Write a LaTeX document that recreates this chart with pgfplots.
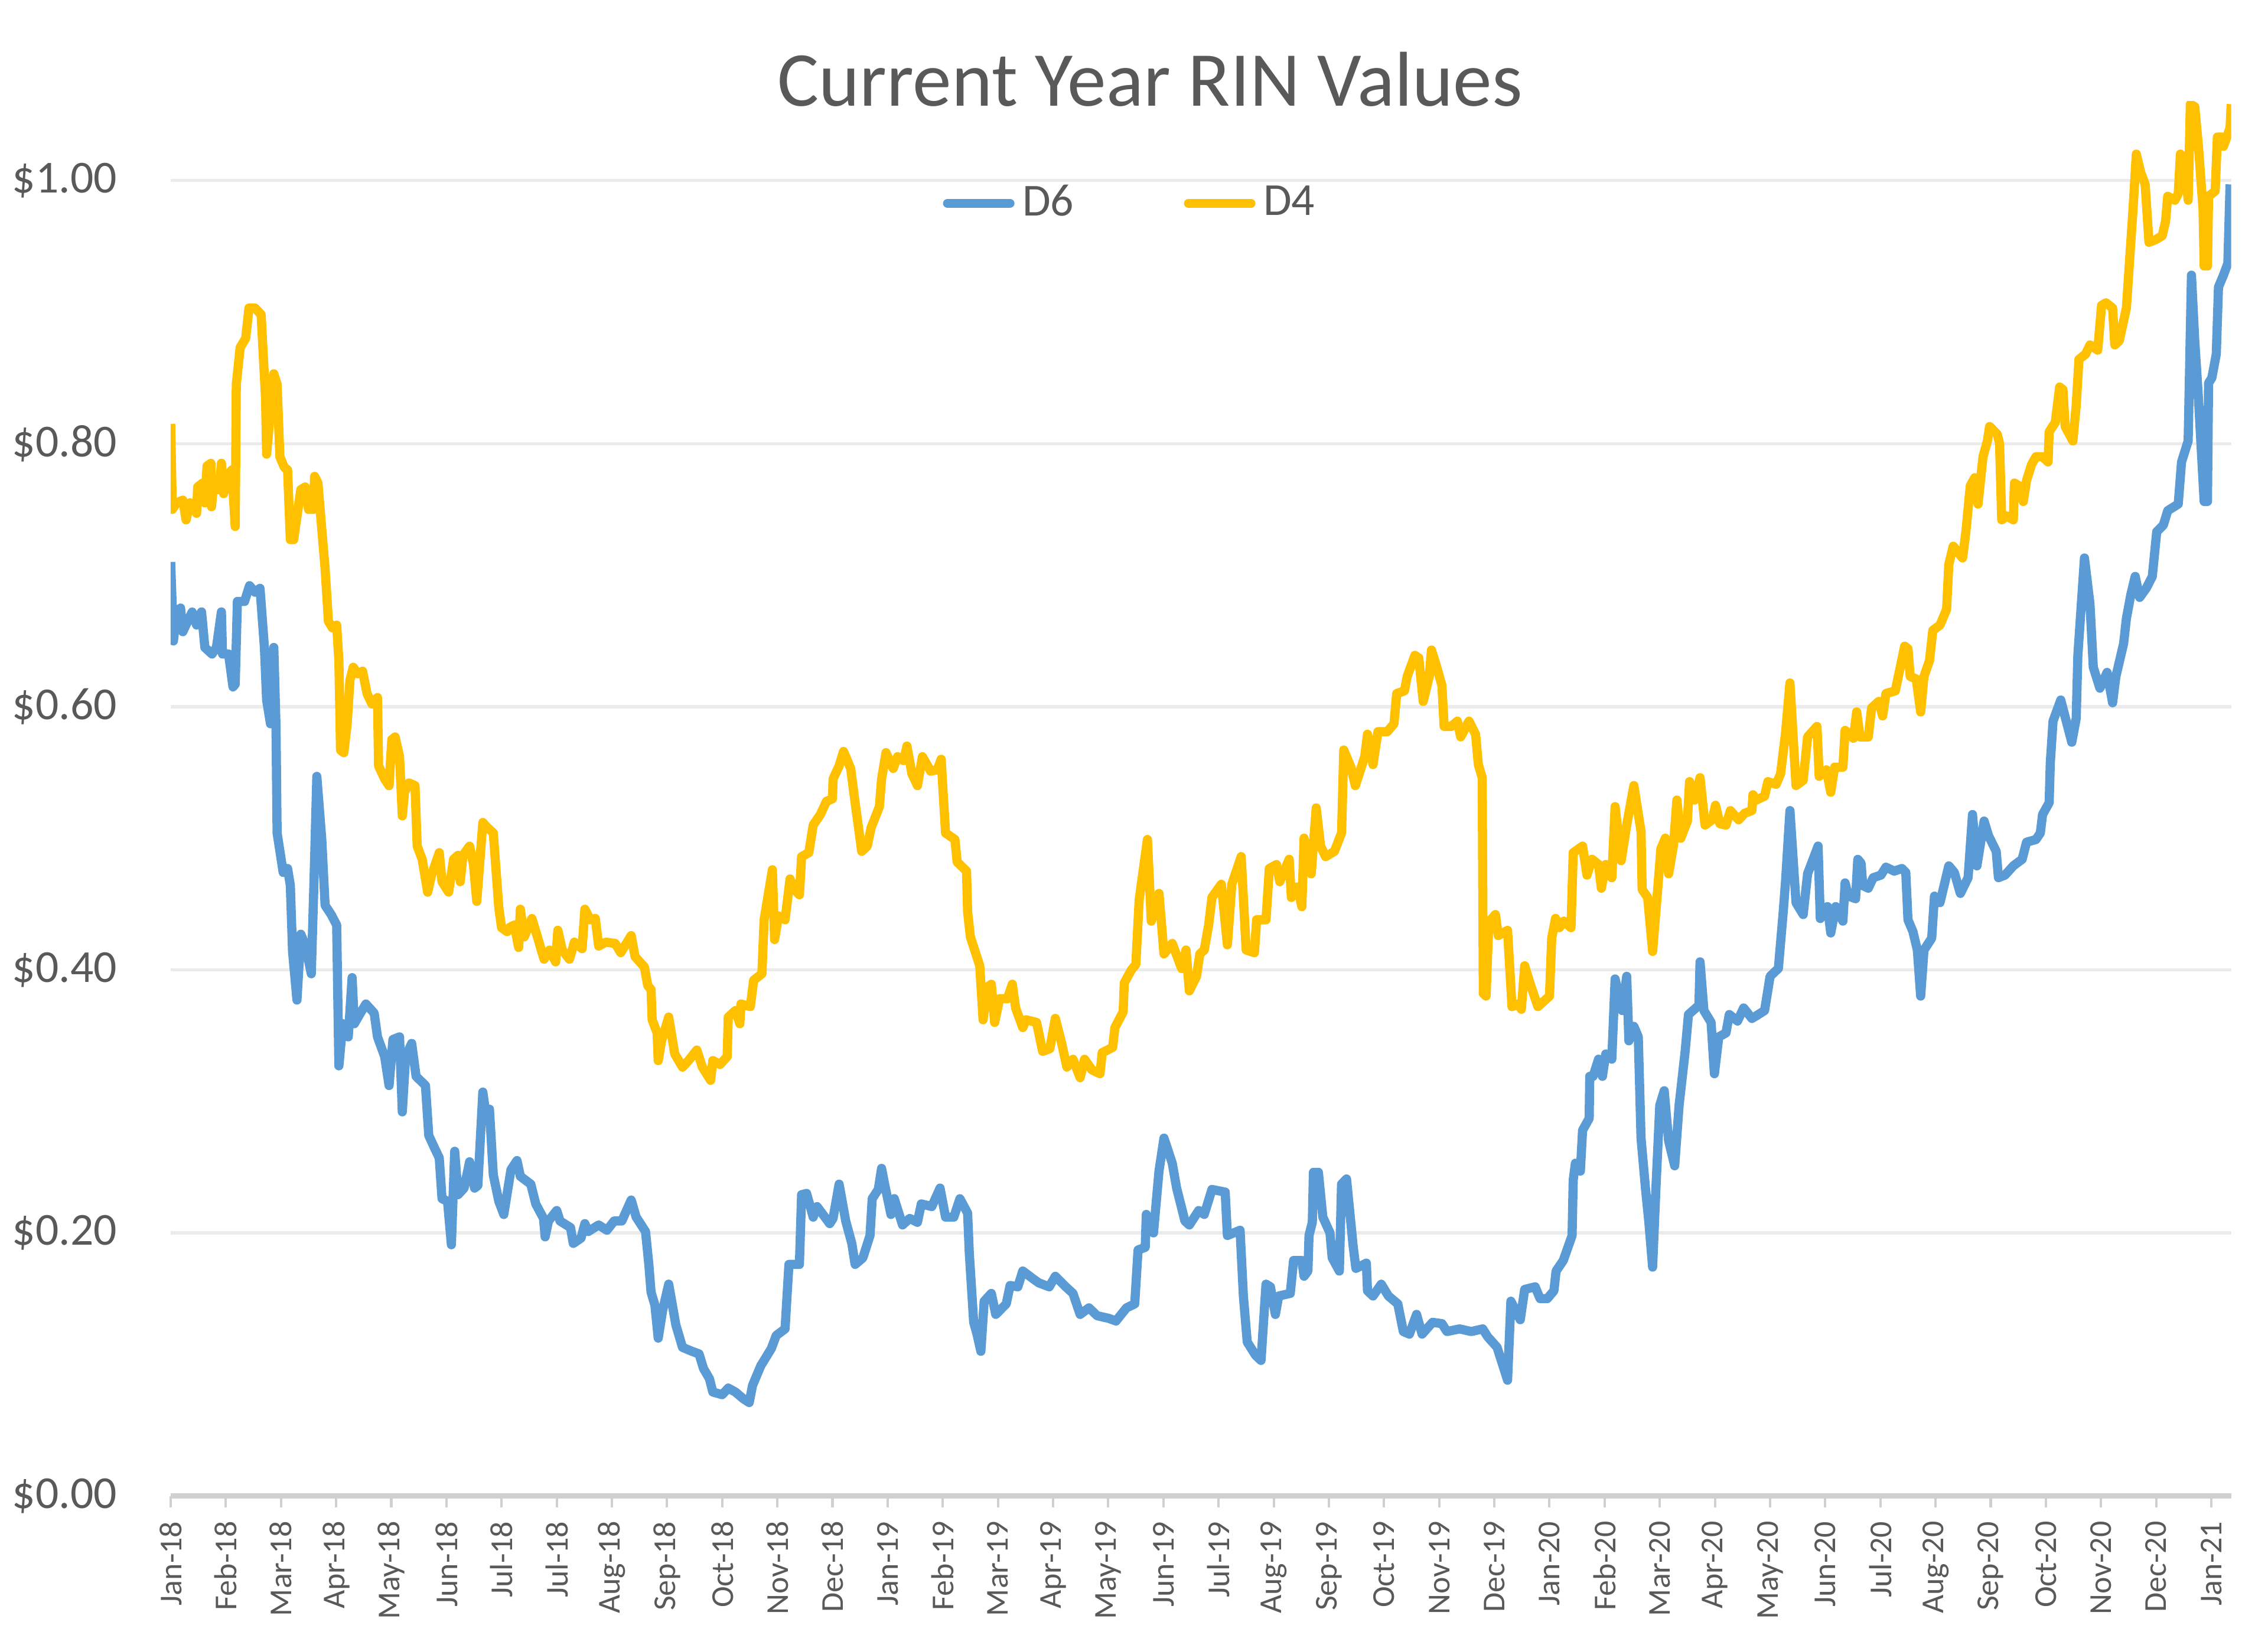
\documentclass[border=0pt]{standalone}
\usepackage{pgfplots}
\pgfplotsset{compat=1.18}
\usepackage{fontspec}
\setmainfont{Carlito}

\definecolor{dsix}{HTML}{5B9BD5}
\definecolor{dfour}{HTML}{FFC000}
\definecolor{txtgray}{HTML}{595959}
\definecolor{gridgray}{HTML}{EBEBEB}
\definecolor{axisgray}{HTML}{D0D0D0}

% x = months since Jan-18 (tick spacing of the original date axis)
\pgfplotstableread{
x y
0 0.710
0.05 0.650
0.11 0.672
0.18 0.675
0.22 0.657
0.31 0.665
0.39 0.672
0.47 0.662
0.56 0.672
0.62 0.645
0.75 0.640
0.83 0.645
0.92 0.672
0.94 0.640
1.05 0.640
1.13 0.615
1.17 0.617
1.21 0.680
1.34 0.680
1.43 0.692
1.53 0.687
1.62 0.690
1.70 0.645
1.74 0.605
1.81 0.587
1.87 0.645
1.91 0.585
1.93 0.504
2.04 0.474
2.12 0.477
2.17 0.464
2.21 0.414
2.29 0.377
2.36 0.427
2.44 0.419
2.55 0.397
2.61 0.484
2.65 0.547
2.74 0.499
2.80 0.449
2.91 0.442
3.01 0.434
3.05 0.327
3.12 0.359
3.22 0.349
3.29 0.394
3.33 0.359
3.44 0.367
3.54 0.374
3.69 0.367
3.75 0.349
3.88 0.334
3.96 0.312
4.03 0.347
4.15 0.349
4.20 0.292
4.26 0.334
4.37 0.344
4.45 0.319
4.62 0.312
4.68 0.274
4.79 0.264
4.87 0.257
4.92 0.226
5.02 0.224
5.09 0.191
5.15 0.262
5.21 0.229
5.32 0.234
5.42 0.254
5.51 0.234
5.57 0.236
5.66 0.307
5.72 0.289
5.78 0.294
5.85 0.244
5.95 0.224
6.04 0.214
6.17 0.248
6.28 0.255
6.34 0.243
6.53 0.237
6.62 0.222
6.76 0.211
6.79 0.197
6.85 0.209
7.00 0.217
7.06 0.209
7.25 0.204
7.30 0.192
7.44 0.196
7.51 0.207
7.57 0.201
7.76 0.206
7.91 0.202
8.04 0.209
8.18 0.209
8.35 0.225
8.44 0.212
8.61 0.201
8.67 0.176
8.71 0.155
8.78 0.145
8.84 0.120
8.92 0.141
9.03 0.161
9.16 0.130
9.28 0.113
9.45 0.110
9.58 0.108
9.66 0.097
9.77 0.089
9.83 0.079
10.00 0.077
10.11 0.082
10.24 0.079
10.38 0.074
10.49 0.071
10.55 0.084
10.70 0.099
10.89 0.112
10.98 0.122
11.14 0.127
11.21 0.176
11.40 0.176
11.44 0.229
11.53 0.230
11.65 0.212
11.72 0.220
11.95 0.207
12.01 0.211
12.12 0.237
12.24 0.209
12.35 0.192
12.41 0.176
12.55 0.181
12.68 0.198
12.72 0.226
12.83 0.233
12.89 0.249
12.95 0.236
13.06 0.214
13.12 0.226
13.27 0.206
13.40 0.211
13.54 0.208
13.61 0.222
13.80 0.220
13.95 0.234
14.05 0.212
14.20 0.212
14.31 0.226
14.45 0.215
14.48 0.185
14.56 0.132
14.62 0.123
14.69 0.110
14.75 0.148
14.88 0.154
14.96 0.138
15.15 0.146
15.22 0.160
15.36 0.159
15.45 0.171
15.64 0.165
15.74 0.162
15.93 0.159
16.04 0.167
16.23 0.159
16.36 0.154
16.49 0.138
16.65 0.143
16.80 0.137
17.01 0.135
17.14 0.133
17.33 0.143
17.48 0.146
17.54 0.187
17.67 0.189
17.69 0.214
17.82 0.200
17.92 0.247
18.01 0.272
18.16 0.253
18.24 0.234
18.39 0.209
18.47 0.206
18.64 0.217
18.74 0.214
18.88 0.233
19.12 0.231
19.16 0.198
19.39 0.202
19.45 0.152
19.52 0.117
19.67 0.107
19.77 0.103
19.86 0.161
19.94 0.159
20.03 0.138
20.09 0.152
20.30 0.154
20.36 0.179
20.51 0.179
20.55 0.167
20.62 0.171
20.64 0.198
20.70 0.208
20.72 0.246
20.81 0.246
20.89 0.212
21.02 0.200
21.06 0.181
21.19 0.171
21.23 0.237
21.32 0.241
21.44 0.190
21.49 0.173
21.68 0.177
21.70 0.156
21.80 0.152
21.95 0.161
22.08 0.152
22.25 0.146
22.35 0.125
22.46 0.123
22.59 0.138
22.69 0.123
22.88 0.132
23.05 0.131
23.14 0.125
23.37 0.127
23.58 0.125
23.79 0.127
23.88 0.121
24.05 0.113
24.24 0.088
24.30 0.148
24.47 0.134
24.55 0.157
24.74 0.159
24.83 0.150
24.96 0.150
25.08 0.156
25.12 0.171
25.25 0.179
25.41 0.198
25.43 0.240
25.47 0.253
25.56 0.247
25.60 0.278
25.72 0.287
25.73 0.319
25.79 0.319
25.89 0.332
25.96 0.319
26.02 0.336
26.13 0.332
26.19 0.393
26.32 0.369
26.40 0.395
26.44 0.346
26.53 0.357
26.61 0.349
26.66 0.272
26.74 0.234
26.80 0.209
26.87 0.174
26.93 0.234
27.00 0.297
27.08 0.308
27.16 0.270
27.27 0.251
27.35 0.297
27.46 0.338
27.52 0.366
27.71 0.373
27.73 0.406
27.80 0.369
27.93 0.360
27.99 0.321
28.07 0.349
28.20 0.352
28.26 0.366
28.41 0.361
28.52 0.371
28.67 0.363
28.75 0.365
28.90 0.369
29.00 0.395
29.15 0.401
29.24 0.445
29.28 0.467
29.36 0.521
29.47 0.451
29.60 0.442
29.68 0.473
29.87 0.494
29.91 0.439
30.04 0.448
30.10 0.428
30.19 0.448
30.32 0.437
30.36 0.466
30.42 0.456
30.55 0.454
30.59 0.484
30.65 0.481
30.68 0.464
30.78 0.462
30.87 0.470
31.01 0.472
31.10 0.478
31.25 0.475
31.39 0.477
31.46 0.474
31.50 0.438
31.59 0.429
31.67 0.415
31.73 0.380
31.79 0.415
31.93 0.424
31.98 0.456
32.08 0.451
32.16 0.465
32.24 0.479
32.34 0.474
32.45 0.458
32.59 0.470
32.67 0.518
32.75 0.479
32.88 0.513
32.96 0.502
33.10 0.490
33.14 0.470
33.26 0.472
33.41 0.479
33.57 0.484
33.65 0.497
33.82 0.499
33.90 0.504
33.94 0.518
34.06 0.527
34.08 0.557
34.13 0.589
34.27 0.605
34.37 0.589
34.47 0.573
34.55 0.591
34.58 0.639
34.64 0.676
34.70 0.713
34.80 0.678
34.86 0.630
34.98 0.614
35.11 0.626
35.21 0.603
35.27 0.623
35.41 0.648
35.46 0.667
35.54 0.685
35.62 0.699
35.70 0.683
35.82 0.690
35.93 0.699
36.01 0.733
36.13 0.738
36.21 0.749
36.40 0.754
36.46 0.786
36.58 0.802
36.64 0.928
36.70 0.878
36.77 0.832
36.87 0.756
36.93 0.756
36.95 0.846
37.01 0.850
37.09 0.868
37.13 0.919
37.22 0.928
37.30 0.937
37.34 0.997
}\dsix

\pgfplotstableread{
x y
0 0.815
0.03 0.750
0.11 0.755
0.22 0.757
0.28 0.742
0.35 0.755
0.43 0.752
0.47 0.747
0.49 0.767
0.58 0.770
0.62 0.755
0.66 0.783
0.73 0.785
0.74 0.752
0.77 0.765
0.88 0.765
0.92 0.785
0.96 0.762
1.02 0.775
1.11 0.780
1.17 0.737
1.19 0.845
1.26 0.873
1.36 0.880
1.42 0.903
1.53 0.903
1.64 0.898
1.72 0.835
1.74 0.792
1.81 0.825
1.87 0.853
1.93 0.845
1.98 0.790
2.06 0.782
2.12 0.780
2.17 0.727
2.23 0.727
2.36 0.765
2.44 0.767
2.50 0.750
2.59 0.750
2.61 0.775
2.67 0.770
2.80 0.705
2.86 0.665
2.93 0.660
3.01 0.662
3.05 0.635
3.08 0.567
3.14 0.565
3.20 0.587
3.25 0.620
3.31 0.630
3.39 0.625
3.48 0.627
3.56 0.610
3.65 0.602
3.75 0.607
3.77 0.555
3.88 0.545
3.96 0.540
4.01 0.575
4.07 0.577
4.15 0.562
4.20 0.517
4.24 0.535
4.32 0.542
4.43 0.540
4.47 0.494
4.56 0.484
4.66 0.459
4.73 0.472
4.87 0.489
4.92 0.467
5.04 0.459
5.13 0.484
5.21 0.487
5.25 0.467
5.30 0.487
5.42 0.494
5.49 0.480
5.55 0.452
5.66 0.512
5.72 0.509
5.85 0.504
5.95 0.447
6.00 0.432
6.10 0.429
6.14 0.432
6.23 0.434
6.31 0.417
6.34 0.446
6.41 0.425
6.55 0.439
6.77 0.408
6.87 0.415
6.98 0.406
7.02 0.430
7.10 0.415
7.23 0.408
7.32 0.421
7.46 0.416
7.51 0.446
7.61 0.438
7.70 0.439
7.76 0.418
7.89 0.421
8.06 0.420
8.16 0.413
8.35 0.426
8.42 0.410
8.59 0.402
8.65 0.388
8.71 0.385
8.73 0.362
8.82 0.352
8.84 0.331
8.90 0.346
9.03 0.364
9.14 0.336
9.28 0.326
9.39 0.331
9.54 0.339
9.64 0.326
9.79 0.316
9.83 0.331
9.96 0.328
10.09 0.334
10.11 0.364
10.24 0.369
10.32 0.359
10.34 0.374
10.51 0.372
10.57 0.392
10.72 0.397
10.76 0.438
10.91 0.476
10.95 0.423
11.02 0.441
11.14 0.438
11.23 0.469
11.31 0.461
11.40 0.457
11.44 0.486
11.57 0.489
11.65 0.510
11.78 0.518
11.89 0.528
12.00 0.530
12.01 0.545
12.12 0.555
12.20 0.566
12.33 0.553
12.41 0.527
12.53 0.490
12.63 0.494
12.70 0.508
12.85 0.524
12.89 0.545
12.97 0.565
13.10 0.553
13.18 0.562
13.29 0.559
13.35 0.570
13.44 0.549
13.54 0.540
13.63 0.562
13.78 0.551
13.90 0.552
13.97 0.560
14.05 0.504
14.22 0.499
14.26 0.482
14.43 0.475
14.45 0.444
14.50 0.425
14.67 0.403
14.73 0.362
14.81 0.387
14.88 0.389
14.94 0.360
15.03 0.378
15.17 0.378
15.26 0.389
15.32 0.371
15.45 0.356
15.51 0.362
15.70 0.360
15.81 0.338
15.94 0.340
16.04 0.363
16.15 0.345
16.25 0.326
16.36 0.332
16.49 0.318
16.57 0.332
16.70 0.324
16.85 0.321
16.89 0.337
17.08 0.341
17.12 0.356
17.27 0.368
17.29 0.390
17.42 0.400
17.50 0.404
17.56 0.453
17.71 0.499
17.78 0.437
17.92 0.458
18.01 0.412
18.16 0.420
18.33 0.401
18.41 0.415
18.47 0.384
18.60 0.395
18.66 0.412
18.74 0.415
18.82 0.434
18.88 0.455
19.05 0.465
19.16 0.419
19.24 0.465
19.41 0.486
19.50 0.415
19.65 0.413
19.69 0.438
19.86 0.438
19.92 0.477
20.05 0.480
20.11 0.467
20.28 0.484
20.32 0.455
20.43 0.463
20.51 0.448
20.55 0.500
20.68 0.473
20.77 0.523
20.85 0.494
20.94 0.486
21.10 0.490
21.23 0.504
21.27 0.567
21.40 0.554
21.48 0.540
21.65 0.562
21.70 0.579
21.80 0.556
21.89 0.581
22.06 0.581
22.18 0.587
22.23 0.610
22.37 0.612
22.42 0.623
22.56 0.639
22.63 0.637
22.71 0.604
22.82 0.623
22.86 0.643
22.95 0.631
23.05 0.616
23.09 0.585
23.22 0.585
23.33 0.589
23.39 0.577
23.54 0.589
23.66 0.579
23.71 0.556
23.78 0.546
23.80 0.382
23.85 0.380
23.90 0.436
24.02 0.442
24.07 0.426
24.24 0.430
24.32 0.372
24.43 0.374
24.49 0.370
24.55 0.403
24.66 0.388
24.79 0.372
25.00 0.380
25.04 0.424
25.11 0.439
25.18 0.432
25.26 0.437
25.39 0.432
25.43 0.489
25.60 0.494
25.68 0.472
25.77 0.484
25.89 0.480
25.94 0.462
26.02 0.480
26.13 0.470
26.19 0.524
26.30 0.483
26.40 0.510
26.53 0.540
26.66 0.505
26.68 0.461
26.78 0.455
26.87 0.414
26.95 0.455
27.02 0.492
27.10 0.500
27.16 0.473
27.25 0.495
27.31 0.529
27.38 0.500
27.50 0.513
27.54 0.543
27.63 0.529
27.73 0.546
27.82 0.510
27.95 0.514
28.01 0.525
28.09 0.511
28.20 0.510
28.28 0.521
28.43 0.514
28.54 0.519
28.67 0.521
28.69 0.533
28.75 0.529
28.90 0.532
28.96 0.543
29.11 0.541
29.19 0.549
29.28 0.580
29.36 0.618
29.47 0.540
29.60 0.544
29.68 0.577
29.85 0.585
29.89 0.547
30.02 0.552
30.10 0.535
30.17 0.554
30.32 0.554
30.36 0.582
30.51 0.576
30.57 0.596
30.63 0.577
30.78 0.577
30.84 0.599
30.97 0.604
31.04 0.593
31.10 0.610
31.27 0.612
31.36 0.630
31.44 0.646
31.50 0.644
31.54 0.623
31.65 0.621
31.73 0.596
31.79 0.623
31.89 0.635
31.95 0.658
32.08 0.662
32.20 0.674
32.24 0.708
32.32 0.722
32.49 0.713
32.55 0.733
32.63 0.768
32.71 0.774
32.77 0.754
32.86 0.790
32.94 0.802
32.98 0.813
33.12 0.807
33.16 0.800
33.20 0.742
33.29 0.745
33.41 0.742
33.43 0.770
33.51 0.768
33.59 0.756
33.65 0.772
33.74 0.784
33.82 0.790
33.94 0.790
34.04 0.786
34.06 0.809
34.17 0.816
34.25 0.843
34.31 0.841
34.35 0.813
34.49 0.802
34.55 0.829
34.60 0.864
34.72 0.868
34.80 0.875
34.94 0.871
35.01 0.905
35.09 0.907
35.21 0.903
35.25 0.875
35.33 0.878
35.46 0.903
35.50 0.928
35.58 0.978
35.64 1.020
35.72 1.006
35.80 0.997
35.87 0.953
35.99 0.955
36.11 0.958
36.17 0.969
36.21 0.988
36.34 0.985
36.40 0.990
36.44 1.020
36.52 1.013
36.58 0.985
36.62 1.058
36.70 1.056
36.77 1.024
36.85 0.978
36.87 0.935
36.93 0.935
36.95 0.988
37.07 0.992
37.11 1.033
37.20 1.033
37.22 1.026
37.34 1.040
37.36 1.058
}\dfour

\begin{document}
\begin{tikzpicture}
\begin{axis}[
    at={(0,0)}, anchor=south west,
    width=18.17cm, height=12.30cm, scale only axis,
    xmin=0, xmax=37.36,
    ymin=0, ymax=1.06,
    axis x line*=bottom, axis y line*=left,
    y axis line style={draw=none},
    x axis line style={axisgray, line width=1.3pt},
    tick align=outside,
    major tick length=0.1cm,
    xtick={0,...,37},
    xticklabels={Jan-18,Feb-18,Mar-18,Apr-18,May-18,Jun-18,Jul-18,Jul-18,Aug-18,Sep-18,Oct-18,Nov-18,Dec-18,
                 Jan-19,Feb-19,Mar-19,Apr-19,May-19,Jun-19,Jul-19,Aug-19,Sep-19,Oct-19,Nov-19,Dec-19,
                 Jan-20,Feb-20,Mar-20,Apr-20,May-20,Jun-20,Jul-20,Aug-20,Sep-20,Oct-20,Nov-20,Dec-20,Jan-21},
    xtick style={axisgray, line width=0.6pt},
    xticklabel style={rotate=90, anchor=east, font=\fontsize{8}{9}\selectfont, text=txtgray},
    ytick={0,0.2,0.4,0.6,0.8,1},
    ytick style={draw=none},
    yticklabel={\$\pgfmathprintnumber[fixed,fixed zerofill,precision=2]{\tick}},
    yticklabel style={font=\fontsize{11.5}{13}\selectfont, text=txtgray, xshift=-0.25cm},
    /pgf/number format/assume math mode=true,
    ymajorgrids, grid style={gridgray, line width=0.8pt},
    legend columns=2,
    legend style={at={(0.467,0.927)}, anchor=center, draw=none, fill=none,
        font=\fontsize{11.5}{13}\selectfont, text=txtgray,
        /tikz/every even column/.append style={column sep=0.9cm}},
    legend image code/.code={\draw[#1, line cap=round] (0cm,0cm) -- (0.55cm,0cm);},
    every axis plot/.append style={line width=2.3pt, line join=round},
]
\addplot[dsix] table {\dsix};
\addlegendentry{D6}
\addplot[dfour] table {\dfour};
\addlegendentry{D4}
\end{axis}
\node[font=\fontsize{19.5}{22}\selectfont, text=txtgray, anchor=base] at (8.635cm,12.26cm) {Current Year RIN Values};
\pgfresetboundingbox
\path (-1.505cm,-1.3125cm) rectangle (18.495cm,13.196cm);
\end{tikzpicture}
\end{document}
